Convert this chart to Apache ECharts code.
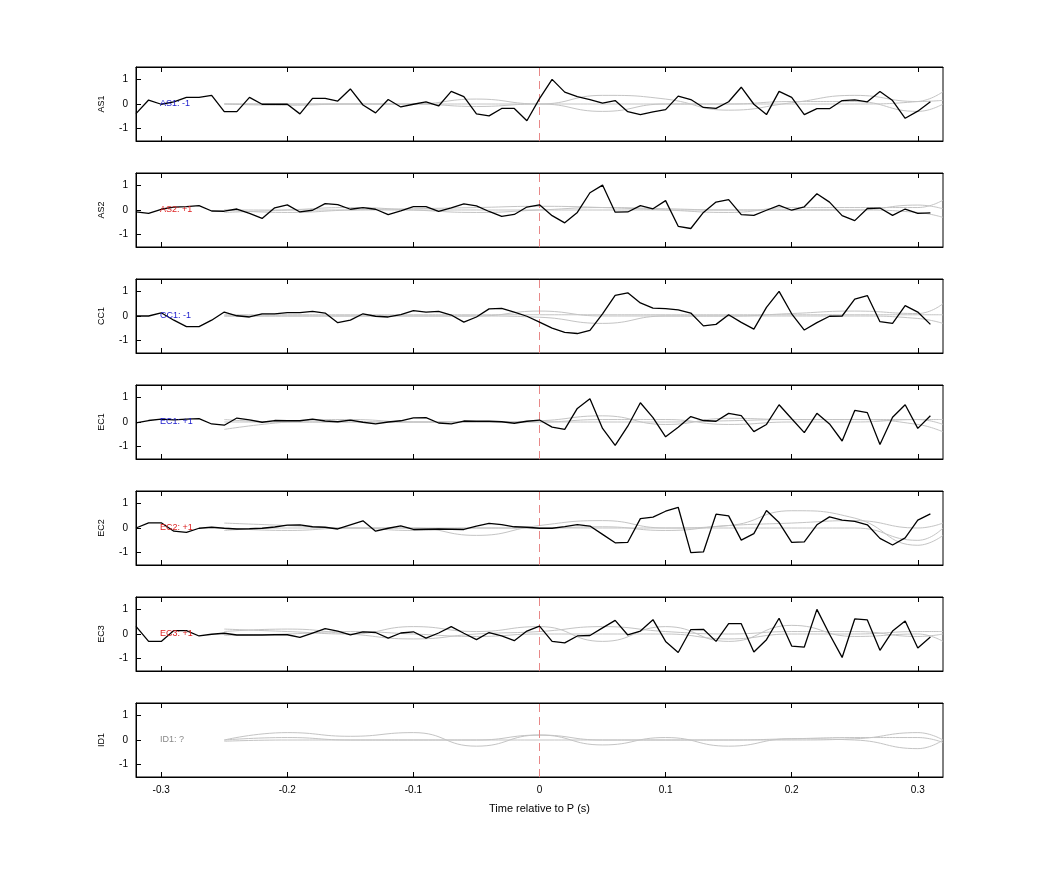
<!DOCTYPE html>
<html><head><meta charset="utf-8">
<script src="https://cdn.jsdelivr.net/npm/echarts@6/dist/echarts.min.js"></script>
<style>html,body{margin:0;padding:0;background:#fff}#c{width:1042px;height:875px}</style>
</head><body><div id="c"></div>
<script>
const channels = ['AS1','AS2','CC1','EC1','EC2','EC3','ID1'];
const tags = ['AS1: -1','AS2: +1','CC1: -1','EC1: +1','EC2: +1','EC3: +1','ID1: ?'];
const tagColors = ['#1a1acc','#dd2222','#1a1acc','#1a1acc','#dd2222','#dd2222','#888888'];
const xTicks = [-0.3,-0.2,-0.1,0,0.1,0.2,0.3];
const yTicks = [-1,0,1];
// black traces, t = -0.32 .. 0.31 step 0.01
const AS1 = [-0.39,0.16,-0.01,0.09,0.27,0.27,0.35,-0.31,-0.31,0.27,-0.01,-0.01,-0.01,-0.40,0.23,0.23,0.12,0.61,-0.04,-0.36,0.18,-0.12,-0.01,0.09,-0.08,0.51,0.30,-0.40,-0.48,-0.18,-0.18,-0.68,0.22,1.0,0.48,0.30,0.18,0.04,0.14,-0.31,-0.43,-0.32,-0.23,0.32,0.18,-0.14,-0.18,0.09,0.68,-0.01,-0.43,0.51,0.27,-0.43,-0.19,-0.19,0.14,0.17,0.09,0.51,0.14,-0.58,-0.29,0.09];
const AS2 = [-0.08,-0.14,0.03,0.12,0.14,0.18,-0.04,-0.05,0.04,-0.14,-0.34,0.09,0.21,-0.08,-0.01,0.26,0.22,0.03,0.10,0.03,-0.19,-0.04,0.14,0.14,-0.06,0.09,0.25,0.17,-0.06,-0.26,-0.18,0.12,0.21,-0.23,-0.52,-0.10,0.70,1.01,-0.09,-0.08,0.18,0.05,0.38,-0.66,-0.75,-0.10,0.32,0.42,-0.19,-0.22,-0.01,0.19,-0.01,0.13,0.66,0.32,-0.23,-0.43,0.06,0.08,-0.22,0.04,-0.14,-0.12];
const CC1 = [0,0,0.13,-0.17,-0.43,-0.43,-0.17,0.16,0.01,-0.04,0.09,0.09,0.14,0.14,0.19,0.12,-0.27,-0.17,0.09,-0.01,-0.04,0.06,0.22,0.16,0.19,0.04,-0.25,-0.04,0.29,0.31,0.16,-0.01,-0.25,-0.49,-0.66,-0.71,-0.58,0.09,0.84,0.94,0.53,0.32,0.30,0.25,0.12,-0.40,-0.34,0.05,-0.26,-0.53,0.35,1.0,0.09,-0.57,-0.27,-0.01,0,0.68,0.83,-0.23,-0.30,0.42,0.16,-0.34];
const EC1 = [-0.04,0.06,0.12,0.09,0.12,0.14,-0.08,-0.13,0.16,0.09,-0.01,0.06,0.05,0.05,0.12,0.04,0.01,0.08,-0.01,-0.08,0,0.05,0.17,0.18,-0.04,-0.08,0.04,0.03,0.03,0.01,-0.05,0.03,0.08,-0.21,-0.30,0.55,0.94,-0.26,-0.95,-0.17,0.78,0.18,-0.60,-0.21,0.22,0.06,0.03,0.35,0.26,-0.39,-0.10,0.70,0.13,-0.43,0.35,-0.08,-0.77,0.47,0.38,-0.91,0.19,0.70,-0.26,0.25];
const EC2 = [0,0.21,0.21,-0.13,-0.18,-0.01,0.03,-0.01,-0.04,-0.03,-0.01,0.04,0.12,0.13,0.05,0.03,-0.04,0.13,0.29,-0.13,-0.01,0.09,-0.06,-0.05,-0.04,-0.05,-0.06,0.08,0.19,0.14,0.05,0.03,-0.01,-0.01,0.06,0.14,0.08,-0.26,-0.60,-0.58,0.38,0.44,0.68,0.84,-1.0,-0.97,0.56,0.49,-0.49,-0.23,0.71,0.22,-0.58,-0.56,0.13,0.45,0.32,0.27,0.13,-0.42,-0.69,-0.40,0.32,0.57];
const EC3 = [0.31,-0.30,-0.30,0.14,0.14,-0.08,-0.01,0.03,-0.04,-0.04,-0.04,-0.03,-0.03,-0.14,0.04,0.22,0.12,-0.04,0.09,0.06,-0.17,0.04,0.09,-0.17,0.04,0.30,0.03,-0.23,0.06,-0.08,-0.27,0.12,0.32,-0.30,-0.36,-0.08,-0.06,0.25,0.55,-0.04,0.12,0.58,-0.30,-0.75,0.18,0.19,-0.30,0.42,0.42,-0.73,-0.23,0.64,-0.49,-0.53,1.0,-0.01,-0.95,0.61,0.57,-0.66,0.12,0.53,-0.57,-0.12];
const ID1 = null;
const blackTraces = [AS1,AS2,CC1,EC1,EC2,EC3,ID1];
const blackTimes = [-0.32,-0.31,-0.30,-0.29,-0.28,-0.27,-0.26,-0.25,-0.24,-0.23,-0.22,-0.21,-0.20,-0.19,-0.18,-0.17,-0.16,-0.15,-0.14,-0.13,-0.12,-0.11,-0.10,-0.09,-0.08,-0.07,-0.06,-0.05,-0.04,-0.03,-0.02,-0.01,0,0.01,0.02,0.03,0.04,0.05,0.06,0.07,0.08,0.09,0.10,0.11,0.12,0.13,0.14,0.15,0.16,0.17,0.18,0.19,0.20,0.21,0.22,0.23,0.24,0.25,0.26,0.27,0.28,0.29,0.30,0.31];
// grey reference traces (smoothed), sampled at greyTimes
const greyTimes = [-0.25,-0.2,-0.15,-0.1,-0.05,0,0.05,0.1,0.15,0.2,0.25,0.3,0.32];
const greyAS1 = [[0,0,0,0,0.2,0,0.35,0.2,-0.25,0.05,0.35,0.1,0.15],[0,-0.05,0,0,-0.1,0,-0.3,0,0,0.1,0.1,-0.3,0],[0,0,0,0,0,0,0,0,0,0,0,0.1,0.5]];
const greyAS2 = [[0,-0.1,0,0.05,0.1,0.15,0.1,0,-0.1,0.1,0.1,0.1,0.4],[-0.1,0,0.1,0,-0.1,0,0.1,0.05,0,0,0,-0.1,-0.3],[0,0,0,0,0,0,0,0,0,0,0,0.2,0.05]];
const greyCC1 = [[0,0,0,0,0,0.2,0,0,0,0.1,0.2,0.1,0.5],[0,0,0,0,0,-0.05,-0.3,0,0,0,0,-0.1,-0.3],[0.05,0.05,0.05,0.05,0.05,0.05,0.05,0.05,0.05,0.05,0.05,0.05,0.05]];
const greyEC1 = [[-0.3,0,0.1,0,0,0.05,0.25,-0.1,0.15,0.1,0.1,-0.1,-0.4],[0.1,0,0,0,0,0,0.1,0.1,-0.1,0,0,0.1,-0.1],[0,0,0,0,0,0,0,0,0.05,0.1,0.1,0.1,0.1]];
const greyEC2 = [[0.2,0.1,0,0,-0.3,0.1,0.3,0,0.1,0.7,0.4,-0.7,-0.3],[0,-0.1,0,-0.1,0,0,0.05,-0.1,0.1,0.2,0.3,0,0.2],[-0.1,0,0,0,0,0,0,0,0,0,0,-0.5,0]];
const greyEC3 = [[0.2,0.1,0,0.3,0.1,0.3,-0.3,0.3,-0.3,0.35,-0.1,0,-0.3],[0.1,0.2,0,-0.2,0,0.1,0.3,0.1,0,0.1,0.1,-0.1,0],[-0.05,0,0.1,0,-0.1,0,0,0,-0.2,0,0,0.1,0.1]];
const greyID1 = [[0,0.3,0.15,0.3,-0.25,0.2,-0.2,0.1,-0.25,0.05,0,-0.35,0],[0,0.1,0,0,0,0.2,0,0,0,0,0.05,0.3,0],[-0.05,0,0,0,0,0,0,0,0,0.05,0.1,0.1,-0.1]];
const greyTraces = [greyAS1,greyAS2,greyCC1,greyEC1,greyEC2,greyEC3,greyID1];

const grids=[],xAxes=[],yAxes=[],series=[],graphics=[];
const font='Liberation Sans';
channels.forEach((ch,k)=>{
  const top=67+106*k;
  grids.push({left:136,width:807,top:top,height:74,show:true,borderColor:'#000',borderWidth:1});
  const last = k===channels.length-1;
  xAxes.push({gridIndex:k,type:'value',min:-0.32,max:0.32,position:'bottom',
    axisLine:{show:true,onZero:false,lineStyle:{color:'#000'}},splitLine:{show:false},
    axisTick:{show:true,inside:true,length:5,customValues:xTicks,lineStyle:{color:'#000'}},
    axisLabel:{show:last,customValues:xTicks,color:'#000',fontSize:10,fontFamily:font,margin:8,formatter:v=>String(v)},
    name:last?'Time relative to P (s)':'',nameLocation:'middle',nameGap:26,nameTextStyle:{color:'#000',fontSize:11,fontFamily:font}});
  xAxes.push({gridIndex:k,type:'value',min:-0.32,max:0.32,position:'top',
    axisLine:{show:true,onZero:false,lineStyle:{color:'#000'}},splitLine:{show:false},
    axisTick:{show:true,inside:true,length:5,customValues:xTicks,lineStyle:{color:'#000'}},axisLabel:{show:false}});
  yAxes.push({gridIndex:k,type:'value',min:-1.5,max:1.5,position:'left',
    axisLine:{show:true,onZero:false,lineStyle:{color:'#000'}},splitLine:{show:false},
    axisTick:{show:true,inside:true,length:5,customValues:yTicks,lineStyle:{color:'#000'}},
    axisLabel:{customValues:yTicks,color:'#000',fontSize:10,fontFamily:font,margin:8},
    name:ch,nameLocation:'middle',nameGap:30,nameRotate:90,nameTextStyle:{color:'#000',fontSize:9,fontFamily:font}});
  const xi=2*k;
  greyTraces[k].forEach((g,j)=>{
    series.push({type:'line',xAxisIndex:xi,yAxisIndex:k,smooth:0.5,symbol:'none',silent:true,
      lineStyle:{color:'#c4c4c4',width:1},data:greyTimes.map((t,i)=>[t,g[i]])});
  });
  const b=blackTraces[k];
  series.push({type:'line',xAxisIndex:xi,yAxisIndex:k,symbol:'none',silent:true,z:5,
    lineStyle:{color:'#000',width:1.3},data:b?blackTimes.map((t,i)=>[t,b[i]]):[],
    markLine:{symbol:'none',silent:true,label:{show:false},lineStyle:{color:'#e88888',type:[8,5],width:1},data:[{xAxis:0}]}});
  graphics.push({type:'text',left:160,top:top+32,style:{text:tags[k],fill:tagColors[k],font:'9px "Liberation Sans"'},z:10});
});
const chart=echarts.init(document.getElementById('c'));
chart.setOption({animation:false,backgroundColor:'#fff',grid:grids,xAxis:xAxes,yAxis:yAxes,series:series,graphic:graphics});
</script></body></html>
